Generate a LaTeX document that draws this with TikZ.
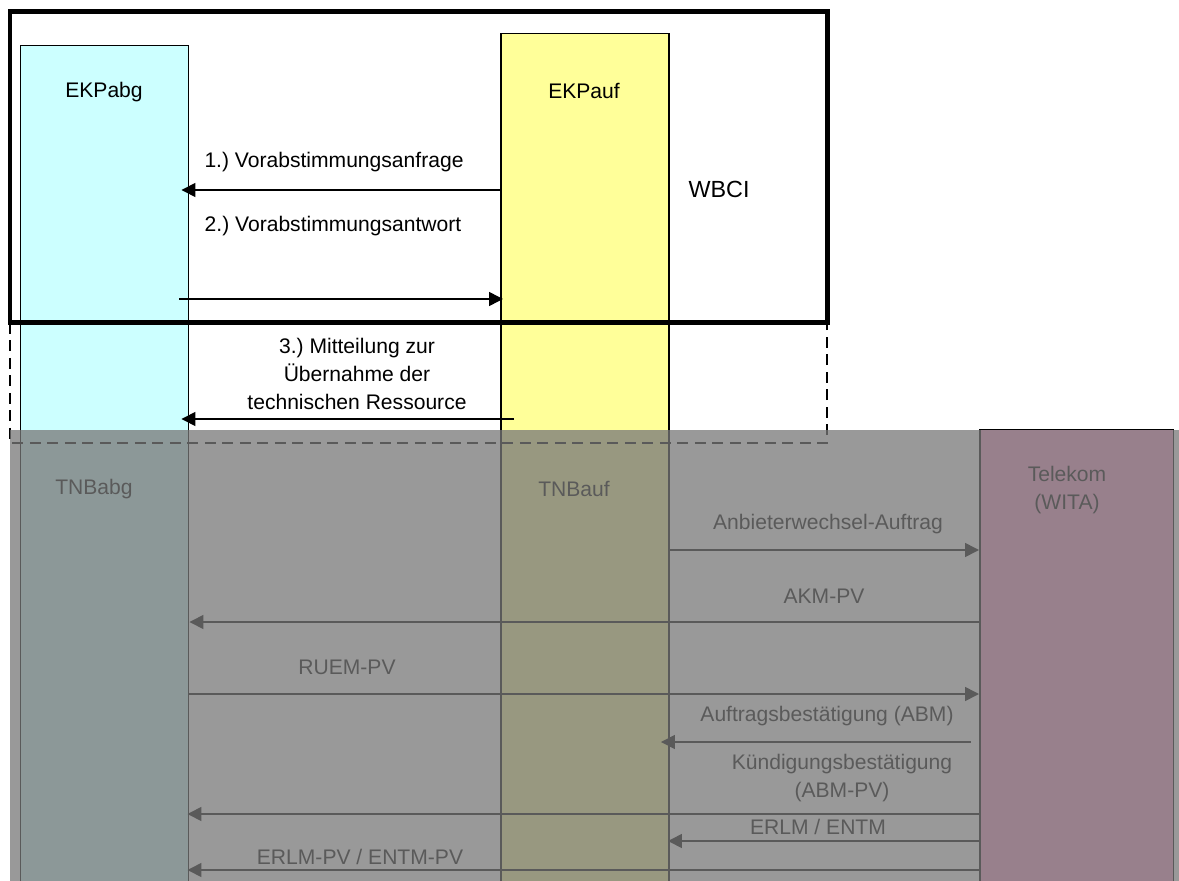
\documentclass[tikz,border=0pt]{standalone}
\usepackage{fontspec}
\setmainfont{Liberation Sans}
\frenchspacing
\usetikzlibrary{arrows.meta}
\definecolor{SoftCyan}{RGB}{204,255,255}
\definecolor{SoftYellow}{RGB}{255,255,153}
\definecolor{SoftPink}{RGB}{255,153,204}
\definecolor{HazeGray}{RGB}{120,120,120}
\tikzset{
  lane/.style={draw,line width=0.03cm,anchor=north west,inner sep=0pt,
    minimum width=3.37cm},
  lbl/.style={font=\fontsize{12}{15.8}\selectfont,align=center,inner sep=0pt},
  msg/.style={-{Triangle[length=0.28cm,width=0.28cm]},line width=0.03cm},
  wbcibox/.style={line width=0.1cm},
  wbcidash/.style={line width=0.04cm,dash pattern=on 0.22cm off 0.13cm}
}

\begin{document}
\begin{tikzpicture}[x=0.02cm,y=-0.02cm]
  \useasboundingbox (0,0) rectangle (1179,881);
  % lanes
  \node[lane,fill=SoftCyan,minimum height=16.9cm] (ekpabg) at (19.5,45) {};
  \node[lane,fill=SoftYellow,minimum height=17.14cm] (ekpauf) at (500,33) {};
  \node[lane,fill=SoftPink,minimum width=3.88cm,minimum height=9.3cm] (telekom) at (979,429) {};
  % WBCI frame
  \draw[wbcibox] (10,12) rectangle (827,323);
  \draw[wbcidash] (10,323) -- (10,443) -- (827,443) -- (827,323);
  % lane titles
  \node[lbl] (tabg) at (104,92) {EKPabg};
  \node[lbl] (tauf) at (584,91) {EKPauf};
  \node[font=\fontsize{13.3}{16}\selectfont,inner sep=0pt] (twbci) at (719,189) {WBCI};
  \node[lbl] (ttnbabg) at (94,489) {TNBabg};
  \node[lbl] (ttnbauf) at (574,489) {TNBauf};
  \node[lbl] (ttelekom) at (1067,490) {Telekom\\(WITA)};
  % WBCI messages
  \node[lbl] (m1) at (334,162) {1.) Vorabstimmungsanfrage};
  \draw[msg] (ekpauf.west |- 0,190) -- ([xshift=-0.16cm]ekpabg.east |- 0,190);
  \node[lbl] (m2) at (333,226) {2.) Vorabstimmungsantwort};
  \draw[msg] ([xshift=-0.2cm]ekpabg.east |- 0,299) -- ([xshift=0.06cm]ekpauf.west |- 0,299);
  \node[lbl] (m3) at (357,374) {3.) Mitteilung zur\\Übernahme der\\technischen Ressource};
  \draw[msg] ([xshift=0.28cm]ekpauf.west |- 0,419) -- ([xshift=-0.16cm]ekpabg.east |- 0,419);
  % WITA messages
  \node[lbl] (w1) at (828,524) {Anbieterwechsel-Auftrag};
  \draw[msg] (ekpauf.east |- 0,550) -- (telekom.west |- 0,550);
  \node[lbl] (w2) at (824,596) {AKM-PV};
  \draw[msg] (telekom.west |- 0,622) -- (ekpabg.east |- 0,622);
  \node[lbl] (w3) at (347,667) {RUEM-PV};
  \draw[msg] (ekpabg.east |- 0,694) -- (telekom.west |- 0,694);
  \node[lbl] (w4) at (827,716) {Auftragsbestätigung (ABM)};
  \draw[msg] ([xshift=-0.16cm]telekom.west |- 0,742) -- ([xshift=-0.18cm]ekpauf.east |- 0,742);
  \node[lbl] (w5) at (842,778) {Kündigungsbestätigung\\(ABM-PV)};
  \draw[msg] (telekom.west |- 0,814) -- ([xshift=-0.04cm]ekpabg.east |- 0,814);
  \node[lbl] (w6) at (818,827) {ERLM / ENTM};
  \draw[msg] (telekom.west |- 0,841) -- ([xshift=-0.04cm]ekpauf.east |- 0,841);
  \node[lbl] (w7) at (360,857) {ERLM-PV / ENTM-PV};
  \draw[msg] (telekom.west |- 0,870) -- ([xshift=-0.04cm]ekpabg.east |- 0,870);
  % grey haze over the TNB part
  \fill[HazeGray,opacity=0.755] (10,430) rectangle (1179,890);
\end{tikzpicture}
\end{document}
